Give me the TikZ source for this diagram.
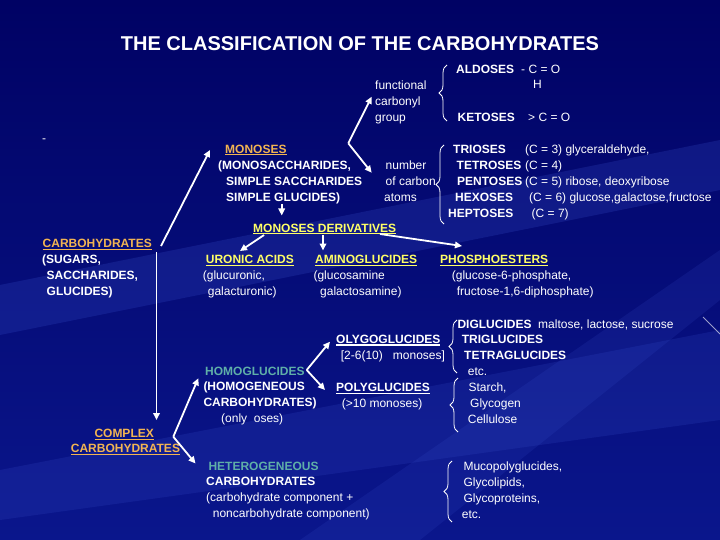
\documentclass[tikz,border=0pt]{standalone}
\usepackage{fontspec}
\setmainfont{Liberation Sans}
\usetikzlibrary{arrows.meta,decorations.pathreplacing}
\definecolor{bgtop}{RGB}{0,2,100}
\definecolor{bgbot}{RGB}{10,22,140}
\definecolor{streak}{RGB}{60,85,210}
\definecolor{orng}{RGB}{242,180,82}
\definecolor{yel}{RGB}{255,255,102}
\definecolor{tealx}{RGB}{95,175,168}
\newcommand{\ulin}[1]{\setbox0\hbox{#1}\rlap{\rule[-2.2pt]{\wd0}{1.2pt}}\box0}
\begin{document}
\begin{tikzpicture}[x=1pt,y=-1pt,
  wt/.style={anchor=base west,inner sep=0pt,text=white,font=\fontsize{12}{16}\selectfont},
  wb/.style={wt,font=\fontsize{12}{16}\selectfont\bfseries},
  orb/.style={wb,text=orng},
  yeb/.style={wb,text=yel},
  tlb/.style={wb,text=tealx},
  arr/.style={draw=white,line width=1.8pt,-{Triangle[length=7pt,width=6.5pt]}},
  brc/.style={draw=white,line width=0.8pt,decorate,decoration={brace,amplitude=8pt}}]
\useasboundingbox (0,0) rectangle (720,540);
% background
\fill[top color=bgtop,bottom color=bgbot] (0,0) rectangle (720,540);
\fill[streak,opacity=0.22] (0,285) -- (720,140) -- (720,190) -- (0,335) -- cycle;
\fill[streak,opacity=0.18] (0,470) -- (720,330) -- (720,420) -- (0,520) -- cycle;
\fill[streak,opacity=0.15] (300,540) -- (720,250) -- (720,300) -- (420,540) -- cycle;
\draw[white,opacity=0.6,line width=0.8pt] (703,317) -- (720,334);

% title
\node[anchor=base,inner sep=0pt,text=white,font=\fontsize{20}{24}\selectfont\bfseries] (title) at (360,51) {THE CLASSIFICATION OF THE CARBOHYDRATES};
\node[wt] (dash) at (42,142.3) {-};

% carbonyl group
\node[wt] (func) at (375,90) {functional};
\node[wt] (carbonyl) at (375,106) {carbonyl};
\node[wt] (group) at (375,122) {group};
\node[wb] (aldoses) at (456,73.5) {ALDOSES};
\node[wt] (cho) at (521,73.5) {- C = O};
\node[wt] (hh) at (533,89) {H};
\node[wb] (ketoses) at (457.5,121.7) {KETOSES};
\node[wt] (co) at (528,121.7) {> C = O};
\draw[brc] (447,121) -- (447,65);

% monoses
\node[orb] (monoses) at (225,153.3) {\ulin{MONOSES}};
\node[wb] (mono1) at (218,169.3) {(MONOSACCHARIDES,};
\node[wb] (mono2) at (226,185.2) {SIMPLE SACCHARIDES};
\node[wb] (mono3) at (226,201.2) {SIMPLE GLUCIDES)};
\node[wt] (num1) at (385.5,169.3) {number};
\node[wt] (num2) at (385.5,185.2) {of carbon};
\node[wt] (num3) at (384,201.2) {atoms};
\draw[brc] (444,224) -- (444,145);
\node[wb] (tri) at (453,153.3) {TRIOSES};
\node[wt] (tri2) at (525,153.3) {(C = 3) glyceraldehyde,};
\node[wb] (tet) at (456.5,169.3) {TETROSES};
\node[wt] (tet2) at (525,169.3) {(C = 4)};
\node[wb] (pen) at (457,185.2) {PENTOSES};
\node[wt] (pen2) at (525,185.2) {(C = 5) ribose, deoxyribose};
\node[wb] (hex) at (455,201.2) {HEXOSES};
\node[wt] (hex2) at (529,201.2) {(C = 6) glucose,galactose,fructose};
\node[wb] (hep) at (448,217.2) {HEPTOSES};
\node[wt] (hep2) at (531.5,217.2) {(C = 7)};

% derivatives
\node[yeb] (mdv) at (253,232.3) {\ulin{MONOSES DERIVATIVES}};
\node[orb] (carb) at (42.5,247.7) {\ulin{CARBOHYDRATES}};
\node[wb] (sug) at (42,263.3) {(SUGARS,};
\node[wb] (sac) at (46.5,279.3) {SACCHARIDES,};
\node[wb] (glu) at (46.5,295.2) {GLUCIDES)};
\node[yeb] (uro) at (205.7,263.5) {\ulin{URONIC ACIDS}};
\node[wt] (uro1) at (202.7,279.3) {(glucuronic,};
\node[wt] (uro2) at (207.7,295.2) {galacturonic)};
\node[yeb] (ami) at (315,263.5) {\ulin{AMINOGLUCIDES}};
\node[wt] (ami1) at (313.3,279.3) {(glucosamine};
\node[wt] (ami2) at (320,295.2) {galactosamine)};
\node[yeb] (pho) at (440,263.5) {\ulin{PHOSPHOESTERS}};
\node[wt] (pho1) at (451.7,279.3) {(glucose-6-phosphate,};
\node[wt] (pho2) at (456.7,295.2) {fructose-1,6-diphosphate)};

% oligo / poly
\node[wb] (dig) at (457.3,328.3) {DIGLUCIDES};
\node[wt] (dig2) at (538,328.3) {maltose, lactose, sucrose};
\node[wb] (oly) at (336,343.3) {\ulin{OLYGOGLUCIDES}};
\node[wt] (oly2) at (340.7,359.2) {[2-6(10)\ \ \ monoses]};
\draw[brc] (457,373) -- (457,320);
\node[wb] (trig) at (461.7,343.3) {TRIGLUCIDES};
\node[wb] (tetg) at (464,359.2) {TETRAGLUCIDES};
\node[wt] (etc1) at (467.7,375.2) {etc.};
\node[wb] (poly) at (336,391.5) {\ulin{POLYGLUCIDES}};
\node[wt] (poly2) at (341.7,407.2) {(>10 monoses)};
\draw[brc] (458,432) -- (458,378);
\node[wt] (sta) at (468.3,391.2) {Starch,};
\node[wt] (gly) at (470,407.2) {Glycogen};
\node[wt] (cel) at (467.7,423.2) {Cellulose};

% homo / hetero
\node[tlb] (homo) at (205,375) {HOMOGLUCIDES};
\node[wb] (homo1) at (203.3,390.7) {(HOMOGENEOUS};
\node[wb] (homo2) at (203.3,406.7) {CARBOHYDRATES)};
\node[wt] (homo3) at (221,422.7) {(only\ \ oses)};
\node[orb] (cplx1) at (94.3,437.7) {\ulin{COMPLEX}};
\node[orb] (cplx2) at (70.7,452.7) {\ulin{CARBOHYDRATES}};
\node[tlb] (het) at (208.3,470) {HETEROGENEOUS};
\node[wb] (het1) at (206,485.7) {CARBOHYDRATES};
\node[wt] (het2) at (206,501.7) {(carbohydrate component +};
\node[wt] (het3) at (212.7,517.7) {noncarbohydrate component)};
\draw[brc] (452,522) -- (452,461);
\node[wt] (muc) at (463.3,470) {Mucopolyglucides,};
\node[wt] (glyl) at (463.3,486) {Glycolipids,};
\node[wt] (glyp) at (463.3,502) {Glycoproteins,};
\node[wt] (etc2) at (461.7,518) {etc.};

% connector points
\coordinate (a1s) at (161,246);  \coordinate (a1e) at (210,150);
\coordinate (v2) at (348.3,143.3); \coordinate (a2u) at (371.7,96.7); \coordinate (a2d) at (371.7,172.7);
\coordinate (a3s) at (281.7,204); \coordinate (a3e) at (281.7,215.5);
\coordinate (a4s) at (264,235);  \coordinate (a4e) at (240,251);
\coordinate (a5s) at (323,235);  \coordinate (a5e) at (323,250.5);
\coordinate (a6s) at (380,234);  \coordinate (a6e) at (462,246);
\coordinate (a7s) at (156.5,252); \coordinate (a7e) at (156.5,420);
\coordinate (v8) at (173.3,436.7); \coordinate (a8u) at (198.3,378.3); \coordinate (a8d) at (195.5,463.5);
\coordinate (v9) at (306.7,370); \coordinate (a9u) at (330,341.7); \coordinate (a9d) at (325,390);

\draw[arr] (a1s) -- (a1e);
\draw[arr] (v2) -- (a2u);
\draw[arr] (v2) -- (a2d);
\draw[arr] (a3s) -- (a3e);
\draw[arr] (a4s) -- (a4e);
\draw[arr] (a5s) -- (a5e);
\draw[arr] (a6s) -- (a6e);
\draw[arr] (a7s) -- (a7e);
\draw[arr] (v8) -- (a8u);
\draw[arr] (v8) -- (a8d);
\draw[arr] (v9) -- (a9u);
\draw[arr] (v9) -- (a9d);
\end{tikzpicture}
\end{document}
